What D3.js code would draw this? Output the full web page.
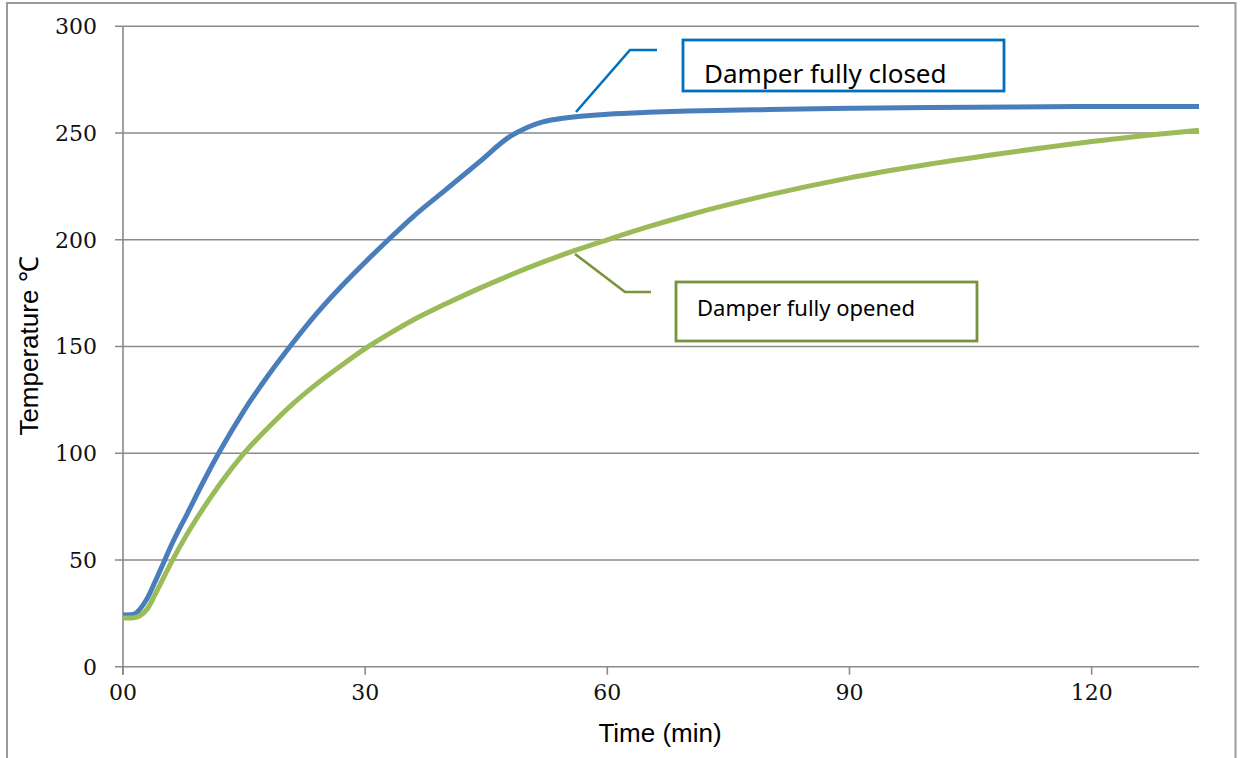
<!DOCTYPE html>
<html><head><meta charset="utf-8">
<script src="https://cdn.jsdelivr.net/npm/d3@7"></script>
<style>body{margin:0;background:#fff}</style>
</head><body>
<script>
// ---- data ----
const timeClosed = [0,1,1.5,2,3,4,5,6,8,10,12,15,18,21,24,27,30,33,36,40,44,48,50,52,55,60,65,70,80,90,100,110,120,133.3];
const tempClosed = [24.2,24.3,24.8,26.5,32,40,48.5,57,72,87,101,120,136.5,151.5,165.5,178,189.5,200.5,211,223.5,236,248.5,252.5,255.2,257.2,258.8,259.7,260.3,261,261.6,262,262.2,262.4,262.4];
const timeOpened = [0,1,1.5,2,3,4,5,6,8,10,12,15,18,21,24,27,30,33,36,40,44,48,52,56,60,65,70,80,90,100,110,120,133.3];
const tempOpened = [22.8,22.8,23,23.6,27,34,41.5,49,62.5,74.5,85.5,100,112,123,132.5,141,149,156,162.5,170,177,183.5,189.5,195,200,206,211.5,221,229,235.5,241,246,251.3];
const xTicks = [0,30,60,90,120];
const xTickLabels = ["00","30","60","90","120"];
const yTicks = [0,50,100,150,200,250,300];
const seriesNames = ["Damper fully closed","Damper fully opened"];
const seriesColors = ["#4a7ebb","#9bbb59"];
const calloutColors = ["#0070c0","#77933c"];

const W=1240,H=758;
const svg=d3.select("body").append("svg").attr("width",W).attr("height",H);
const x=d3.scaleLinear().domain([0,133.3]).range([123,1199]);
const y=d3.scaleLinear().domain([0,300]).range([666.7,26.3]);

// outer frame
svg.append("path").attr("d","M7,760 V3 H1235.5 V760").attr("fill","none").attr("stroke","#9a9a9a").attr("stroke-width",2);

// gridlines
svg.append("g").selectAll("line").data(yTicks).join("line")
  .attr("x1",115).attr("x2",1199).attr("y1",d=>y(d)).attr("y2",d=>y(d))
  .attr("stroke","#8a8a8a").attr("stroke-width",1.6);
// y axis line
svg.append("line").attr("x1",123).attr("x2",123).attr("y1",y(300)).attr("y2",y(0)+8)
  .attr("stroke","#8a8a8a").attr("stroke-width",1.6);
// x ticks
svg.append("g").selectAll("line").data(xTicks).join("line")
  .attr("x1",d=>x(d)).attr("x2",d=>x(d)).attr("y1",y(0)).attr("y2",y(0)+8)
  .attr("stroke","#8a8a8a").attr("stroke-width",1.6);

const tickFont="'DejaVu Serif', serif";
svg.append("g").selectAll("text").data(yTicks).join("text")
  .attr("x",97).attr("y",d=>y(d)).attr("dy","0.36em").attr("text-anchor","end")
  .attr("font-family",tickFont).attr("font-size",22).attr("fill","#111").text(d=>d);
svg.append("g").selectAll("text").data(xTicks).join("text")
  .attr("x",d=>x(d)).attr("y",700).attr("text-anchor","middle")
  .attr("font-family",tickFont).attr("font-size",22).attr("fill","#111").text((d,i)=>xTickLabels[i]);

// axis titles
svg.append("text").attr("x",660).attr("y",742).attr("text-anchor","middle")
  .attr("font-family","'Liberation Sans', Arial, sans-serif").attr("font-size",26).attr("fill","#000").text("Time (min)");
svg.append("text").attr("transform","translate(38,346) rotate(-90)").attr("text-anchor","middle")
  .attr("font-family","'Liberation Sans', Arial, sans-serif").attr("font-size",26).attr("fill","#000").text("Temperature ℃");

// lines
const line=d3.line().x(d=>x(d[0])).y(d=>y(d[1])).curve(d3.curveMonotoneX);
const dataSets=[d3.zip(timeClosed,tempClosed), d3.zip(timeOpened,tempOpened)];
dataSets.forEach((ds,i)=>{
  svg.append("path").datum(ds).attr("d",line).attr("fill","none")
    .attr("stroke",seriesColors[i]).attr("stroke-width",5).attr("stroke-linejoin","round");
});

// callouts
svg.append("polyline").attr("points","576,112 630,50 657,50").attr("fill","none").attr("stroke",calloutColors[0]).attr("stroke-width",2.6);
svg.append("rect").attr("x",683).attr("y",40).attr("width",321).attr("height",51).attr("fill","#fff").attr("stroke",calloutColors[0]).attr("stroke-width",2.8);
svg.append("text").attr("x",704).attr("y",83).attr("font-family","'Noto Sans', sans-serif").attr("font-size",26).attr("fill","#000").text(seriesNames[0]);

svg.append("polyline").attr("points","575,254 625,292 651,292").attr("fill","none").attr("stroke",calloutColors[1]).attr("stroke-width",2.6);
svg.append("rect").attr("x",676).attr("y",282).attr("width",301).attr("height",59).attr("fill","#fff").attr("stroke",calloutColors[1]).attr("stroke-width",2.8);
svg.append("text").attr("x",697).attr("y",316).attr("font-family","'Noto Sans', sans-serif").attr("font-size",22).attr("fill","#000").text(seriesNames[1]);
</script>
</body></html>
